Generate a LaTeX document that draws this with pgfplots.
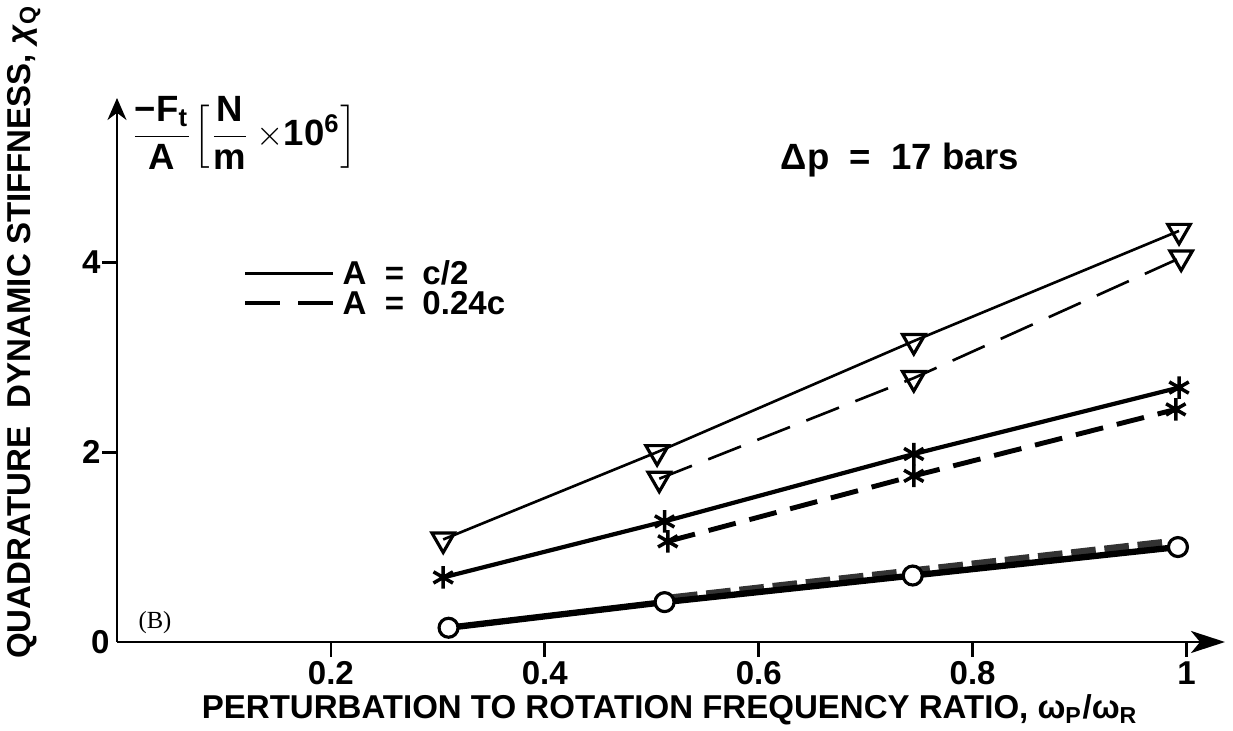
\documentclass[border=0pt]{standalone}
\usepackage{fontspec}
\setmainfont{Liberation Sans}
\newfontfamily\serifB{Liberation Serif}
\usepackage{amsmath}
\usepackage{pgfplots}
\pgfplotsset{compat=1.18}
\usetikzlibrary{arrows.meta}

\newcommand\lab{\fontsize{9.4}{10.5}\selectfont\bfseries}
\newcommand\labbig{\fontsize{10.4}{11.5}\selectfont\bfseries}
% picture pixel (x from left, y from top) -> tikz point, 1px = 0.1mm
\newcommand\px[2]{({#1*0.1mm},{(731-#2)*0.1mm})}

\begin{document}
\begin{tikzpicture}
\path[use as bounding box] (0,0) rectangle (123.3mm,73.1mm);
\begin{axis}[
  at={(11.7mm,8.9mm)}, anchor=south west,
  scale only axis, width=110.8mm, height=54.4mm,
  xmin=0, xmax=1.036, ymin=0, ymax=5.73,
  axis lines=left,
  axis line style={line width=0.8pt},
  x axis line style={-{Stealth[length=3.4mm,width=2.2mm,inset=0.9mm]}},
  y axis line style={-{Stealth[length=2.2mm,width=1.9mm]}},
  xtick={0.2,0.4,0.6,0.8,1}, xticklabels={0.2,0.4,0.6,0.8,1},
  ytick={2,4}, yticklabels={2,4},
  extra y ticks={0}, extra y tick labels={0},
  extra y tick style={major tick length=0pt, yticklabel style={xshift=-0.6mm}},
  tick align=outside, major tick length=1.5mm,
  tick style={line width=0.8pt, black},
  tick label style={font=\lab},
  xticklabel style={yshift=0.8mm},
  yticklabel style={xshift=1.1mm},
  /pgf/number format/assume math mode=true,
  clip=false,
  legend style={draw=none, fill=none, at={(0.104,0.717)}, anchor=north west,
    font=\lab, row sep=0.6pt,
    nodes={inner sep=0.6pt, text height=6.6pt, text depth=0pt}},
  legend cell align=left,
  legend image code/.code={\draw[#1] (0mm,0mm) -- (8.8mm,0mm);},
]
\addlegendimage{black, line width=1pt}
\addlegendentry{\,A~~=~~c/2}
\addlegendimage{black, line width=1pt, dash pattern=on 3.5mm off 1.8mm}
\addlegendentry{\,A~~=~~0.24c}

% A = c/2, triangles
\addplot[forget plot, black, line width=0.75pt, mark=triangle, mark size=3.7pt,
  mark options={solid, rotate=180, fill=white, line width=0.9pt}]
  coordinates {(0.305,1.08) (0.505,2.00) (0.745,3.17) (0.993,4.33)};
% A = 0.24c, triangles
\addplot[forget plot, black, line width=0.75pt, dash pattern=on 10pt off 5pt,
  mark=triangle, mark size=3.7pt,
  mark options={solid, rotate=180, fill=white, line width=0.9pt}]
  coordinates {(0.507,1.72) (0.745,2.78) (0.995,4.05)};
% A = c/2, stars
\addplot[forget plot, black, line width=1.2pt, mark=asterisk, mark size=3.2pt,
  mark options={solid, line width=1pt}]
  coordinates {(0.305,0.68) (0.512,1.27) (0.745,1.98) (0.993,2.68)};
% A = 0.24c, stars
\addplot[forget plot, black, line width=1.4pt, dash pattern=on 8pt off 4pt,
  mark=asterisk, mark size=3.2pt, mark options={solid, line width=1pt}]
  coordinates {(0.515,1.06) (0.745,1.75) (0.99,2.45)};
% A = 0.24c, circles
\addplot[forget plot, black!80, line width=2.4pt, dash pattern=on 7pt off 2.5pt]
  coordinates {(0.52,0.46) (0.75,0.75) (0.985,1.05)};
% A = c/2, circles
\addplot[forget plot, black, line width=1.8pt, mark=*, mark size=2.7pt,
  mark options={solid, fill=white, line width=0.9pt}]
  coordinates {(0.31,0.15) (0.512,0.42) (0.744,0.70) (0.992,1.00)};
\end{axis}

\node[font=\lab, rotate=90] at \px{24}{332}
  {QUADRATURE~ DYNAMIC STIFFNESS, \textit{χ}\textsubscript{Q}};
\node[font=\lab] at \px{670}{710}
  {PERTURBATION TO ROTATION FREQUENCY RATIO, ω\textsubscript{P}/ω\textsubscript{R}};
\node[font=\labbig, anchor=west, inner sep=0pt] at \px{130}{133}
  {$\dfrac{\text{\labbig −F\textsubscript{t}}}{\text{\labbig A}}\Bigl[\dfrac{\text{\labbig N}}{\text{\labbig m}}\,{\times}\text{\labbig 10\textsuperscript{6}}\Bigr]$};
\node[font=\labbig] at \px{900}{160} {Δp~~=~~17 bars};
\node[font=\serifB\fontsize{7}{8}\selectfont] at \px{155}{623} {(B)};
\end{tikzpicture}
\end{document}
